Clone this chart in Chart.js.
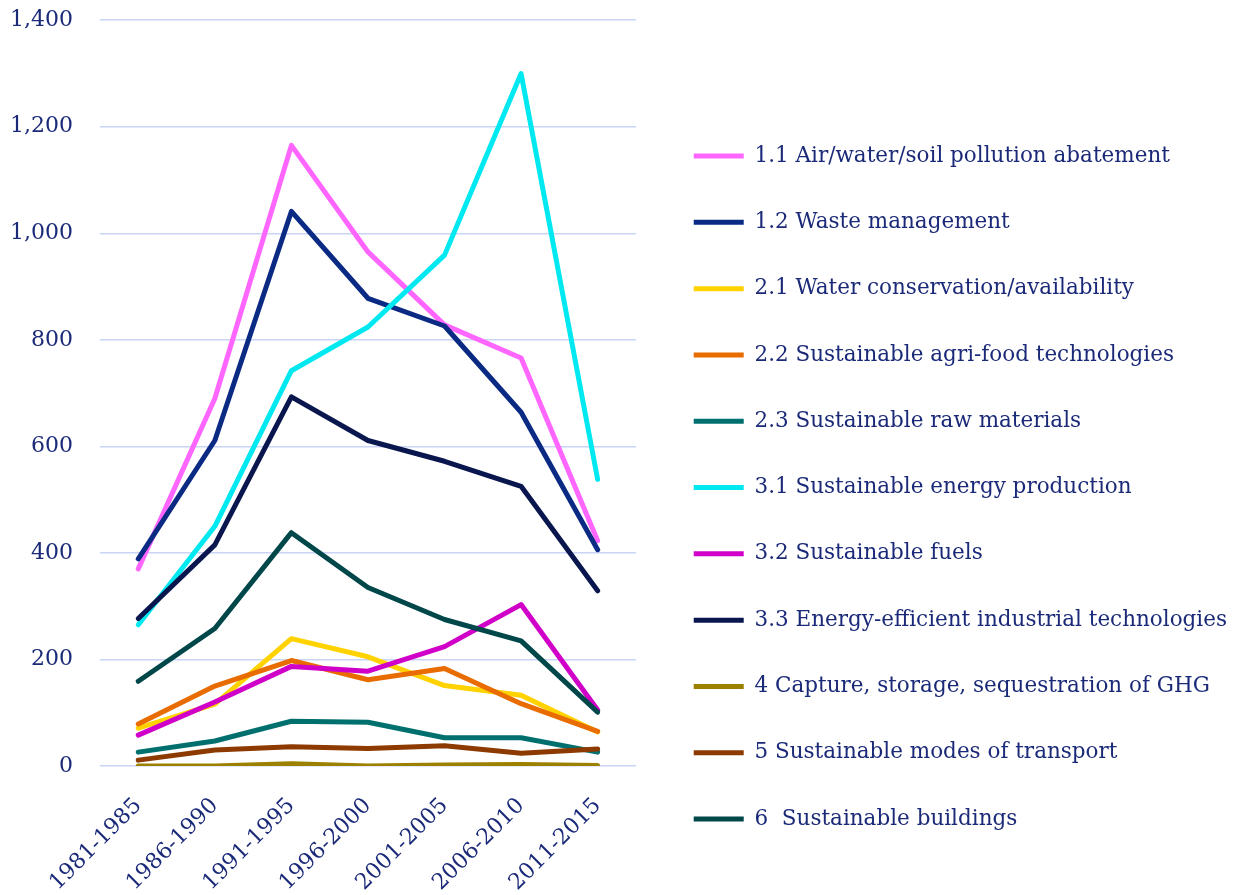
<!DOCTYPE html>
<html lang="en">
<head>
    <meta charset="UTF-8">
    <title>Patents by technology field</title>
    <script src="https://cdn.jsdelivr.net/npm/chart.js@4"></script>
    <style>
        html, body { margin: 0; padding: 0; background: #ffffff; }
        #wrap { width: 1237px; height: 895px; }
    </style>
</head>
<body>
    <div id="wrap">
        <canvas id="chart"></canvas>
    </div>

    <script>
        // periods on the x axis
        const periods = ['1981-1985', '1986-1990', '1991-1995', '1996-2000', '2001-2005', '2006-2010', '2011-2015'];

        // series names
        const seriesNames = [
            '1.1 Air/water/soil pollution abatement',
            '1.2 Waste management',
            '2.1 Water conservation/availability',
            '2.2 Sustainable agri-food technologies',
            '2.3 Sustainable raw materials',
            '3.1 Sustainable energy production',
            '3.2 Sustainable fuels',
            '3.3 Energy-efficient industrial technologies',
            '4 Capture, storage, sequestration of GHG',
            '5 Sustainable modes of transport',
            '6  Sustainable buildings'
        ];

        // values
        const airWaterSoil   = [370, 690, 1165, 965, 828, 766, 423];
        const wasteMgmt      = [389, 611, 1041, 878, 826, 664, 406];
        const waterConserv   = [71, 116, 239, 205, 151, 133, 64];
        const agriFood       = [79, 150, 198, 162, 183, 117, 65];
        const rawMaterials   = [26, 47, 84, 82, 53, 53, 26];
        const energyProd     = [265, 450, 742, 824, 959, 1300, 538];
        const fuels          = [58, 120, 187, 178, 224, 303, 105];
        const industrialEff  = [277, 415, 693, 611, 572, 525, 329];
        const ghgCapture     = [0, 0, 4, 0, 2, 3, 1];
        const transport      = [11, 30, 36, 33, 38, 24, 32];
        const buildings      = [159, 258, 438, 335, 275, 235, 101];

        const seriesValues = [airWaterSoil, wasteMgmt, waterConserv, agriFood, rawMaterials,
            energyProd, fuels, industrialEff, ghgCapture, transport, buildings];

        const seriesColors = ['#ff66ff', '#0b2a84', '#ffd200', '#e86c00', '#00706f',
            '#00e8f0', '#d000c8', '#0a174f', '#9c8000', '#8c3a00', '#00474a'];

        // y axis ticks
        const yTicks = [0, 200, 400, 600, 800, 1000, 1200, 1400];

        const textColor = '#1b2a78';
        const fontFamily = '"DejaVu Serif", serif';

        const datasets = seriesNames.map((name, i) => ({
            label: name,
            data: seriesValues[i],
            borderColor: seriesColors[i],
            backgroundColor: seriesColors[i],
            borderWidth: 5,
            borderCapStyle: 'round',
            borderJoinStyle: 'round',
            pointRadius: 0,
            tension: 0,
            fill: false,
            order: seriesNames.length - i // later series on top, like the original
        }));

        new Chart(document.getElementById('chart'), {
            type: 'line',
            data: { labels: periods, datasets: datasets },
            options: {
                responsive: true,
                maintainAspectRatio: false,
                animation: false,
                layout: { padding: { top: 0, left: 3, bottom: 0, right: 0 } },
                plugins: {
                    tooltip: { enabled: false },
                    legend: {
                        position: 'right',
                        align: 'start',
                        maxWidth: 700,
                        title: {
                            display: true,
                            text: '',
                            font: { size: 10 },
                            padding: { top: 88.5, bottom: 0 }
                        },
                        labels: {
                            usePointStyle: true,
                            pointStyle: 'line',
                            pointStyleWidth: 50,
                            padding: 44.8,
                            color: textColor,
                            font: { family: fontFamily, size: 21.5 },
                            sort: (a, b) => a.datasetIndex - b.datasetIndex
                        }
                    }
                },
                scales: {
                    x: {
                        offset: true,
                        grid: { display: false, drawTicks: false },
                        border: { display: false },
                        ticks: {
                            color: textColor,
                            font: { family: fontFamily, size: 22 },
                            minRotation: 45,
                            maxRotation: 45,
                            padding: 27
                        },
                        afterFit: axis => { axis.height = 129; }
                    },
                    y: {
                        min: 0,
                        max: 1400,
                        afterBuildTicks: axis => { axis.ticks = yTicks.map(v => ({ value: v })); },
                        grid: { color: '#c9d4f6', lineWidth: 1.5, tickLength: 20, tickColor: 'rgba(0,0,0,0)' },
                        border: { display: false },
                        ticks: {
                            color: textColor,
                            font: { family: fontFamily, size: 22 },
                            padding: 7,
                            callback: v => v.toLocaleString('en-US')
                        }
                    },
                    // empty axis that only keeps a gap between plot and legend
                    gap: {
                        position: 'right',
                        display: true,
                        grid: { display: false, drawTicks: false },
                        border: { display: false },
                        ticks: { display: false },
                        afterFit: axis => { axis.width = 13; }
                    }
                }
            }
        });
    </script>
</body>
</html>
